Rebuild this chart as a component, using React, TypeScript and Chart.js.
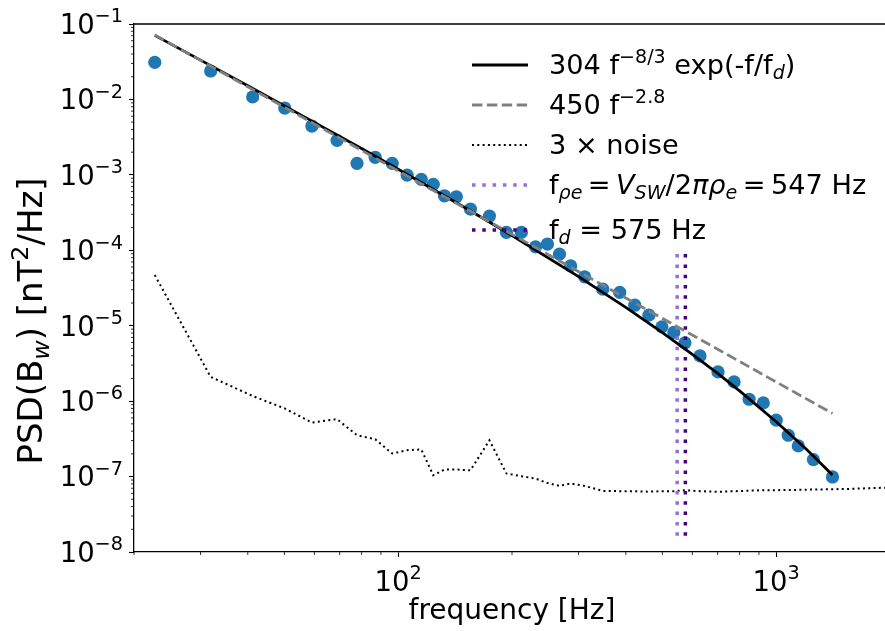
import React, { useEffect, useRef } from 'react';
import { Chart, registerables } from 'chart.js';

Chart.register(...registerables);

const FONT = '"DejaVu Sans", sans-serif';
const FS = 27.2;
const TICK_FS = 27.5;
const XTITLE_FS = 28;
const YTITLE_FS = 34;

// measured spectrum (Hz, nT^2/Hz)
const frequency = [22.7, 31.9, 41.2, 50.1, 59.1, 68.9, 77.8, 86.9, 96.4, 105.6, 115.1, 123.8, 132.5, 142.5, 155.3, 174.3, 193.3, 211.8, 230.8, 248.2, 267.1, 285.9, 311.3, 347.6, 385.5, 422.4, 460.5, 498.4, 536, 573.6, 628.6, 701.5, 773.6, 847.7, 924.4, 1000, 1076, 1144, 1254, 1409];
const psd = [3.10e-2, 2.38e-2, 1.08e-2, 7.69e-3, 4.44e-3, 2.87e-3, 1.42e-3, 1.71e-3, 1.42e-3, 9.93e-4, 8.71e-4, 7.48e-4, 5.28e-4, 5.12e-4, 3.52e-4, 2.84e-4, 1.73e-4, 1.73e-4, 1.11e-4, 1.21e-4, 8.89e-5, 6.22e-5, 4.45e-5, 3.05e-5, 2.76e-5, 1.87e-5, 1.38e-5, 9.66e-6, 8.15e-6, 5.93e-6, 3.98e-6, 2.44e-6, 1.80e-6, 1.06e-6, 9.48e-7, 5.59e-7, 3.53e-7, 2.55e-7, 1.68e-7, 9.88e-8];

// 3 x noise
const noiseFreq = [22.7, 31.9, 41.2, 50.1, 59.1, 68.9, 77.8, 86.9, 96.4, 105.6, 115.1, 123.8, 132.5, 142.5, 155.3, 174.3, 193.3, 211.8, 230.8, 248.2, 267.1, 285.9, 311.3, 347.6, 385.5, 422.4, 460.5, 498.4, 536, 573.6, 628.6, 701.5, 773.6, 847.7, 924.4, 1000, 1076, 1144, 1254, 1409, 1560, 1730, 1910, 2100];
const noisePsd = [4.69e-5, 2.10e-6, 1.17e-6, 8.0e-7, 5.21e-7, 5.77e-7, 3.53e-7, 3.13e-7, 2.02e-7, 2.24e-7, 2.29e-7, 1.04e-7, 1.24e-7, 1.24e-7, 1.21e-7, 3.03e-7, 1.10e-7, 1.01e-7, 9.41e-8, 8.2e-8, 7.52e-8, 8.09e-8, 7.52e-8, 6.46e-8, 6.40e-8, 6.40e-8, 6.30e-8, 6.40e-8, 6.40e-8, 6.59e-8, 6.40e-8, 6.27e-8, 6.40e-8, 6.5e-8, 6.59e-8, 6.59e-8, 6.66e-8, 6.66e-8, 6.73e-8, 6.8e-8, 6.86e-8, 7.0e-8, 7.1e-8, 7.2e-8];

// fit curve 304 f^-8/3 exp(-f/fd)
const fitFreq = [22.7, 30, 40, 60, 80, 100, 150, 200, 300, 400, 500, 600, 700, 800, 1000, 1200, 1409];
const fitPsd = [7.07e-2, 3.32e-2, 1.515e-2, 4.96e-3, 2.23e-3, 1.186e-3, 3.69e-4, 1.569e-4, 4.48e-5, 1.747e-5, 8.09e-6, 4.18e-6, 2.33e-6, 1.371e-6, 5.34e-7, 2.32e-7, 1.05e-7];

// power law 450 f^-2.8 (straight in log-log)
const plFreq = [22.7, 1409];
const plPsd = [7.18e-2, 6.88e-7];

// characteristic frequencies
const fRhoE = 547;
const fD = 575;
const vlineRange = [8.9e-5, 1.36e-8];

// axes
const xMin = 20;
const xMax = 2000;
const yMin = 1e-8;
const yMax = 1e-1;
const xTickValues = [100, 1000];
const xTickExp = ['2', '3'];
const yTickValues = [1e-8, 1e-7, 1e-6, 1e-5, 1e-4, 1e-3, 1e-2, 1e-1];
const yTickExp = ['−8', '−7', '−6', '−5', '−4', '−3', '−2', '−1'];

type Seg = { t: string; k?: 'sup' | 'sub'; i?: boolean; gap?: number };

const legendEntries: { segs: Seg[]; color: string; width: number; dash: number[] }[] = [
  { segs: [{ t: '304 f' }, { t: '−8/3', k: 'sup' }, { t: ' exp(-f/f' }, { t: 'd', k: 'sub', i: true }, { t: ')' }], color: '#000000', width: 2.8, dash: [] },
  { segs: [{ t: '450 f' }, { t: '−2.8', k: 'sup' }], color: '#808080', width: 2.8, dash: [10.4, 4.5] },
  { segs: [{ t: '3 × noise' }], color: '#000000', width: 2, dash: [2, 3.3] },
  { segs: [{ t: 'f' }, { t: 'ρe', k: 'sub', i: true }, { t: '', gap: 0.2 }, { t: '=' }, { t: '', gap: 0.2 }, { t: 'V', i: true }, { t: 'SW', k: 'sub', i: true }, { t: '/2' }, { t: 'πρ', i: true }, { t: 'e', k: 'sub', i: true }, { t: '', gap: 0.2 }, { t: '=' }, { t: '', gap: 0.2 }, { t: '547 Hz' }], color: '#9370DB', width: 3.5, dash: [3.5, 6.8] },
  { segs: [{ t: 'f' }, { t: 'd', k: 'sub', i: true }, { t: ' = 575 Hz' }], color: '#4B0082', width: 3.5, dash: [3.5, 6.8] },
];

const yTitle: Seg[] = [{ t: 'PSD(B' }, { t: 'w', k: 'sub', i: true }, { t: ') [nT' }, { t: '2', k: 'sup' }, { t: '/Hz]' }];
const xTitle: Seg[] = [{ t: 'frequency [Hz]' }];

function setSegFont(ctx: CanvasRenderingContext2D, s: Seg, fs: number) {
  const size = s.k ? fs * 0.7 : fs;
  ctx.font = `${s.i ? 'italic ' : ''}${size}px ${FONT}`;
}

function segWidth(ctx: CanvasRenderingContext2D, s: Seg, fs: number) {
  if (s.gap) return s.gap * fs;
  setSegFont(ctx, s, fs);
  return ctx.measureText(s.t).width;
}

function richWidth(ctx: CanvasRenderingContext2D, segs: Seg[], fs: number) {
  let w = 0;
  for (const s of segs) w += segWidth(ctx, s, fs);
  return w;
}

function drawRich(ctx: CanvasRenderingContext2D, segs: Seg[], x: number, y: number, fs: number) {
  let cx = x;
  ctx.textBaseline = 'alphabetic';
  ctx.textAlign = 'left';
  for (const s of segs) {
    if (!s.gap) {
      setSegFont(ctx, s, fs);
      const dy = s.k === 'sup' ? -fs * 0.42 : s.k === 'sub' ? fs * 0.2 : 0;
      ctx.fillText(s.t, cx, y + dy);
    }
    cx += segWidth(ctx, s, fs);
  }
}

const decorPlugin = {
  id: 'decor',
  afterDraw(chart: any) {
    const ctx: CanvasRenderingContext2D = chart.ctx;
    const { left, right, top, bottom } = chart.chartArea;
    const xs = chart.scales.x;
    const ys = chart.scales.y;
    ctx.save();
    ctx.strokeStyle = '#000';
    ctx.lineWidth = 1.4;
    ctx.beginPath();
    ctx.moveTo(left, top);
    ctx.lineTo(right, top);
    ctx.lineTo(right, bottom);
    ctx.stroke();

    // minor ticks
    ctx.lineWidth = 0.8;
    ctx.beginPath();
    for (let e = 1; e <= 3; e++) {
      for (let m = 2; m <= 9; m++) {
        const v = m * Math.pow(10, e);
        if (v < xMin || v > xMax) continue;
        const px = xs.getPixelForValue(v);
        ctx.moveTo(px, bottom);
        ctx.lineTo(px, bottom + 3);
      }
    }
    for (let e = -8; e <= -2; e++) {
      for (let m = 2; m <= 9; m++) {
        const v = m * Math.pow(10, e);
        const py = ys.getPixelForValue(v);
        ctx.moveTo(left, py);
        ctx.lineTo(left - 3, py);
      }
    }
    ctx.stroke();

    ctx.fillStyle = '#000';

    // tick labels (10 with superscript exponent)
    yTickValues.forEach((v, i) => {
      const segs: Seg[] = [{ t: '10' }, { t: yTickExp[i], k: 'sup' }];
      const w = richWidth(ctx, segs, TICK_FS);
      const py = ys.getPixelForValue(v);
      drawRich(ctx, segs, left - 11 - w, py + TICK_FS * 0.36, TICK_FS);
    });
    xTickValues.forEach((v, i) => {
      const segs: Seg[] = [{ t: '10' }, { t: xTickExp[i], k: 'sup' }];
      const w = richWidth(ctx, segs, TICK_FS);
      const px = xs.getPixelForValue(v);
      drawRich(ctx, segs, px - w / 2, bottom + 39, TICK_FS);
    });

    // legend
    const hx0 = left + 338;
    const hx1 = hx0 + 56;
    const tx = hx1 + 21;
    const rowsY = [top + 41, top + 81, top + 121, top + 161, top + 206];
    legendEntries.forEach((en, i) => {
      const y = rowsY[i];
      ctx.save();
      ctx.strokeStyle = en.color;
      ctx.lineWidth = en.width;
      ctx.setLineDash(en.dash);
      ctx.lineCap = 'butt';
      ctx.beginPath();
      ctx.moveTo(hx0, y);
      ctx.lineTo(hx1, y);
      ctx.stroke();
      ctx.restore();
      drawRich(ctx, en.segs, tx, y + FS * 0.33, FS);
    });

    // x title
    const xw = richWidth(ctx, xTitle, XTITLE_FS);
    drawRich(ctx, xTitle, (left + right) / 2 - xw / 2, 619, XTITLE_FS);

    // y title (rotated)
    const yw = richWidth(ctx, yTitle, YTITLE_FS);
    ctx.save();
    ctx.translate(42, 321);
    ctx.rotate(-Math.PI / 2);
    drawRich(ctx, yTitle, -yw / 2, 0, YTITLE_FS);
    ctx.restore();

    ctx.restore();
  },
};

export default function App() {
  const ref = useRef<HTMLCanvasElement>(null);
  useEffect(() => {
    const canvas = ref.current;
    if (!canvas) return;
    const pts = (xs: number[], ys: number[]) => xs.map((x, i) => ({ x, y: ys[i] }));
    const chart = new Chart(canvas, {
      type: 'scatter',
      data: {
        datasets: [
          { label: 'pl', data: pts(plFreq, plPsd), showLine: true, borderColor: '#808080', borderWidth: 2.8, borderDash: [10.4, 4.5], pointRadius: 0, order: 0 },
          { label: 'fit', data: pts(fitFreq, fitPsd), showLine: true, borderColor: '#000000', borderWidth: 2.8, pointRadius: 0, order: 1 },
          { label: 'frhoe', data: [{ x: fRhoE, y: vlineRange[0] }, { x: fRhoE, y: vlineRange[1] }], showLine: true, borderColor: '#9370DB', borderWidth: 3.5, borderDash: [3.5, 6.8], pointRadius: 0, order: 2 },
          { label: 'fd', data: [{ x: fD, y: vlineRange[0] }, { x: fD, y: vlineRange[1] }], showLine: true, borderColor: '#4B0082', borderWidth: 3.5, borderDash: [3.5, 6.8], pointRadius: 0, order: 3 },
          { label: 'noise', data: pts(noiseFreq, noisePsd), showLine: true, borderColor: '#000000', borderWidth: 2, borderDash: [2, 3.3], pointRadius: 0, order: 4 },
          { label: 'data', data: pts(frequency, psd), showLine: false, pointRadius: 6.6, pointBackgroundColor: '#1f77b4', backgroundColor: '#1f77b4', pointBorderWidth: 0, borderWidth: 0, order: 5 },
        ],
      } as any,
      options: {
        animation: false,
        responsive: false,
        devicePixelRatio: 1,
        layout: { autoPadding: false, padding: { top: 24, right: 1, left: 0, bottom: 0 } },
        plugins: { legend: { display: false }, tooltip: { enabled: false } },
        scales: {
          x: {
            type: 'logarithmic',
            position: 'bottom',
            min: xMin,
            max: xMax,
            bounds: 'data',
            afterBuildTicks: (s: any) => { s.ticks = xTickValues.map((v) => ({ value: v })); },
            afterFit: (s: any) => { s.height = 79; },
            ticks: { display: false, autoSkip: false },
            grid: { display: true, drawOnChartArea: false, drawTicks: true, tickLength: 5, tickColor: '#000', tickWidth: 1.1 },
            border: { display: true, color: '#000', width: 1.3 },
            title: { display: false },
          },
          y: {
            type: 'logarithmic',
            position: 'left',
            min: yMin,
            max: yMax,
            bounds: 'data',
            afterBuildTicks: (s: any) => { s.ticks = yTickValues.map((v) => ({ value: v })); },
            afterFit: (s: any) => { s.width = 134; },
            ticks: { display: false, autoSkip: false },
            grid: { display: true, drawOnChartArea: false, drawTicks: true, tickLength: 5, tickColor: '#000', tickWidth: 1.1 },
            border: { display: true, color: '#000', width: 1.3 },
            title: { display: false },
          },
        },
      } as any,
      plugins: [decorPlugin],
    });
    return () => chart.destroy();
  }, []);

  return (
    <div style={{ position: 'fixed', left: 0, top: 0, width: 885, height: 631, overflow: 'hidden', background: '#fff' }}>
      <canvas ref={ref} width={891} height={631} style={{ display: 'block', width: 891, height: 631 }} />
    </div>
  );
}
